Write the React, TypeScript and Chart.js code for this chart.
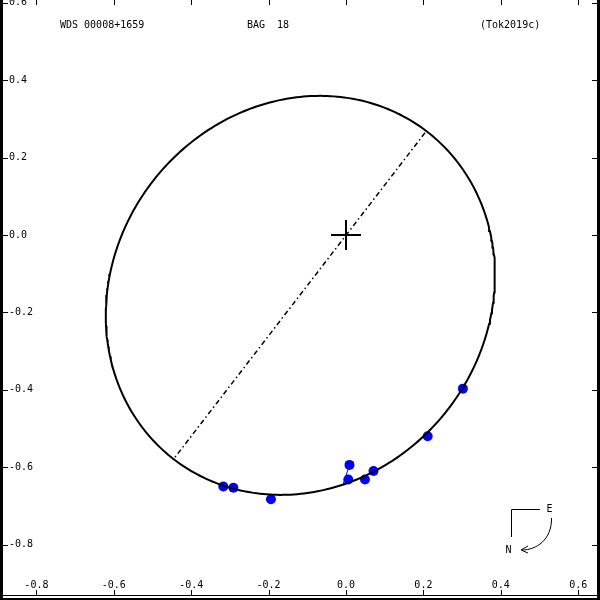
import React, { useEffect, useRef } from "react";
import { Chart, registerables } from "chart.js";

Chart.register(...registerables);

// ---- data ----
const xTicks = [-0.8, -0.6, -0.4, -0.2, 0.0, 0.2, 0.4, 0.6];
const yTicks = [0.6, 0.4, 0.2, 0.0, -0.2, -0.4, -0.6, -0.8];
const titleTexts = ["WDS 00008+1659", "BAG  18", "(Tok2019c)"];

// apparent orbit ellipse: centre x, centre y, semi-major, semi-minor, angle (deg)
const orbitEllipse = [-0.118, -0.156, 0.535, 0.482, 52];

// line of nodes end points
const nodeX = [0.204, -0.447];
const nodeY = [0.264, -0.581];

// observations
const obsX = [-0.317, -0.291, -0.194, 0.009, 0.006, 0.049, 0.071, 0.211, 0.302];
const obsY = [-0.65, -0.653, -0.683, -0.594, -0.632, -0.632, -0.61, -0.52, -0.397];
// computed positions (residual ends)
const ephX = [-0.315, -0.29, -0.194, -0.008, 0.004, 0.048, 0.068, 0.21, 0.301];
const ephY = [-0.646, -0.651, -0.673, -0.646, -0.643, -0.634, -0.62, -0.521, -0.398];

const FONT = "10px 'DejaVu Sans Mono'";

function ellipsePoints() {
  const [cx, cy, a, b, deg] = orbitEllipse;
  const th = (deg * Math.PI) / 180;
  const pts: { x: number; y: number }[] = [];
  for (let i = 0; i <= 360; i++) {
    const t = (i * Math.PI) / 180;
    const ex = a * Math.cos(t);
    const ey = b * Math.sin(t);
    pts.push({
      x: cx + ex * Math.cos(th) - ey * Math.sin(th),
      y: cy + ex * Math.sin(th) + ey * Math.cos(th),
    });
  }
  return pts;
}

const framePlugin = {
  id: "frame",
  afterDraw(chart: any) {
    const ctx = chart.ctx as CanvasRenderingContext2D;
    const xs = chart.scales.x;
    const ys = chart.scales.y;
    const W = chart.width;
    const H = chart.height;
    ctx.save();
    ctx.strokeStyle = "#000";
    ctx.fillStyle = "#000";
    // borders
    ctx.fillRect(0, 0, 3, H);
    ctx.fillRect(W - 3, 0, 3, H);
    ctx.fillRect(0, 595, W, 1);
    ctx.fillRect(0, 598, W, 2);
    // ticks
    ctx.lineWidth = 1;
    ctx.beginPath();
    xTicks.forEach((v) => {
      const px = Math.round(xs.getPixelForValue(v)) + 0.5;
      ctx.moveTo(px, 0);
      ctx.lineTo(px, 5);
      ctx.moveTo(px, 595);
      ctx.lineTo(px, 590);
    });
    yTicks.forEach((v) => {
      const py = Math.round(ys.getPixelForValue(v)) + 0.5;
      ctx.moveTo(3, py);
      ctx.lineTo(8, py);
      ctx.moveTo(W - 3, py);
      ctx.lineTo(W - 8, py);
    });
    ctx.stroke();
    // tick labels
    ctx.font = FONT;
    ctx.textAlign = "center";
    ctx.textBaseline = "alphabetic";
    xTicks.forEach((v) => {
      ctx.fillText(v.toFixed(1), xs.getPixelForValue(v), 588);
    });
    ctx.textAlign = "left";
    ctx.textBaseline = "middle";
    yTicks.forEach((v) => {
      ctx.fillText(v.toFixed(1), 9, ys.getPixelForValue(v));
    });
    // titles
    ctx.textBaseline = "alphabetic";
    ctx.fillText(titleTexts[0], 60, 28);
    ctx.fillText(titleTexts[1], 247, 28);
    ctx.fillText(titleTexts[2], 480, 28);
    // compass
    ctx.beginPath();
    ctx.moveTo(540, 509.5);
    ctx.lineTo(511.5, 509.5);
    ctx.lineTo(511.5, 537);
    ctx.stroke();
    ctx.textAlign = "center";
    ctx.textBaseline = "middle";
    ctx.fillText("E", 549.5, 509.5);
    ctx.fillText("N", 508.5, 550);
    ctx.beginPath();
    ctx.moveTo(551.5, 518);
    ctx.bezierCurveTo(552, 540, 536, 550, 522, 550);
    ctx.stroke();
    ctx.beginPath();
    ctx.moveTo(528, 546);
    ctx.lineTo(521, 550);
    ctx.lineTo(528, 553);
    ctx.stroke();
    ctx.restore();
  },
};

export default function App() {
  const ref = useRef<HTMLCanvasElement | null>(null);
  useEffect(() => {
    document.body.style.margin = "0";
    if (!ref.current) return;
    const residualSets = obsX.map((_, i) => ({
      type: "scatter" as const,
      data: [
        { x: obsX[i], y: obsY[i] },
        { x: ephX[i], y: ephY[i] },
      ],
      showLine: true,
      borderColor: "#0000ff",
      borderWidth: 1,
      pointRadius: 0,
    }));
    const chart = new Chart(ref.current, {
      type: "scatter",
      data: {
        datasets: [
          {
            data: ellipsePoints(),
            showLine: true,
            borderColor: "#000",
            borderWidth: 2,
            pointRadius: 0,
            tension: 0,
          },
          {
            data: nodeX.map((x, i) => ({ x, y: nodeY[i] })),
            showLine: true,
            borderColor: "#000",
            borderWidth: 1.5,
            borderDash: [5, 3, 1.5, 3],
            pointRadius: 0,
          },
          ...residualSets,
          {
            data: obsX.map((x, i) => ({ x, y: obsY[i] })),
            backgroundColor: "#0000ff",
            borderColor: "#0000ff",
            borderWidth: 0,
            pointRadius: 5,
          },
          {
            data: [{ x: 0, y: 0 }],
            pointStyle: "cross",
            pointRadius: 15,
            borderColor: "#000",
            borderWidth: 2,
          },
        ],
      },
      options: {
        animation: false,
        responsive: false,
        devicePixelRatio: 1,
        layout: { padding: 0, autoPadding: false },
        plugins: { legend: { display: false }, tooltip: { enabled: false } },
        scales: {
          x: { type: "linear", display: false, min: -346 / 387, max: 254 / 387 },
          y: { type: "linear", display: false, min: -365 / 387, max: 235 / 387 },
        },
      },
      plugins: [framePlugin],
    });
    return () => chart.destroy();
  }, []);
  return (
    <div style={{ width: 600, height: 600 }}>
      <canvas ref={ref} width={600} height={600} />
    </div>
  );
}
